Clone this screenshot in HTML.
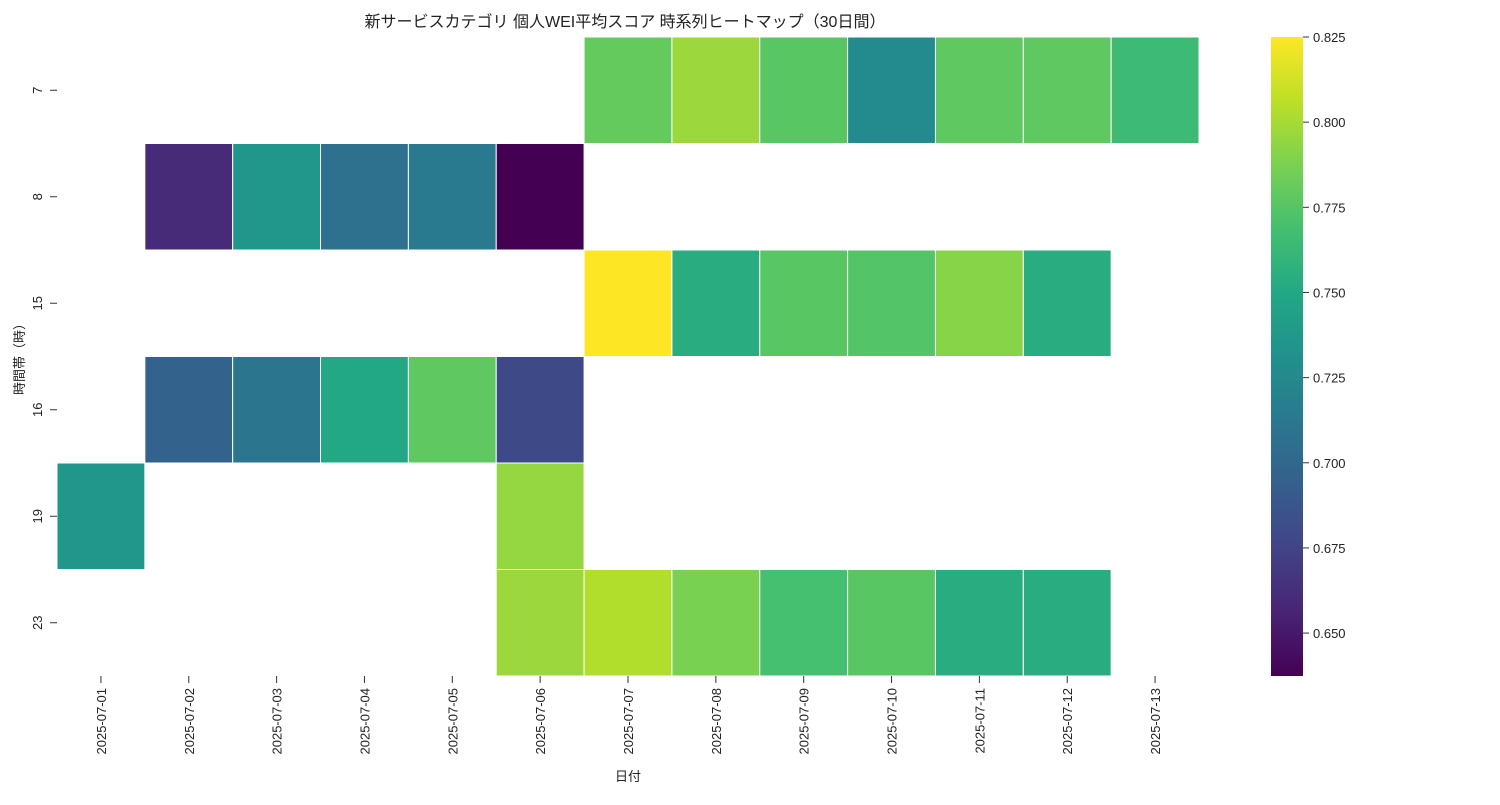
<!DOCTYPE html>
<html><head><meta charset="utf-8"><style>
body{margin:0;background:#fff;}
svg text{font-family:"Liberation Sans","Noto Sans CJK JP",sans-serif;fill:#222;}
</style></head><body>
<svg id="chart" width="1500" height="800"></svg>
<script>
const dates=["2025-07-01","2025-07-02","2025-07-03","2025-07-04","2025-07-05","2025-07-06","2025-07-07","2025-07-08","2025-07-09","2025-07-10","2025-07-11","2025-07-12","2025-07-13"];
const hours=["7","8","15","16","19","23"];
const row7=[null,null,null,null,null,null,0.780,0.797,0.776,0.726,0.778,0.778,0.765];
const row8=[null,0.660,0.735,0.707,0.714,0.6374,null,null,null,null,null,null,null];
const row15=[null,null,null,null,null,null,0.825,0.754,0.776,0.774,0.791,0.754,null];
const row16=[null,0.697,0.711,0.750,0.778,0.679,null,null,null,null,null,null,null];
const row19=[0.735,null,null,null,null,0.795,null,null,null,null,null,null,null];
const row23=[null,null,null,null,null,0.797,0.803,0.787,0.769,0.776,0.754,0.754,null];
const values=[row7,row8,row15,row16,row19,row23];
const cbTicks=[0.650,0.675,0.700,0.725,0.750,0.775,0.800,0.825];
const vmin=0.6374,vmax=0.825;

const stops=["#440154","#482475","#414487","#355f8d","#2a788e","#21918c","#22a884","#44bf70","#7ad151","#bddf26","#fde725"];
function hex(c){return [1,3,5].map(i=>parseInt(c.substr(i,2),16));}
function viridis(t){t=Math.max(0,Math.min(1,t));const p=t*(stops.length-1);const i=Math.min(Math.floor(p),stops.length-2);const f=p-i;const a=hex(stops[i]),b=hex(stops[i+1]);return "rgb("+a.map((v,k)=>Math.round(v+(b[k]-v)*f)).join(",")+")";}
const svg=document.getElementById('chart');const NS="http://www.w3.org/2000/svg";
function el(tag,attrs,txt){const e=document.createElementNS(NS,tag);for(const k in attrs)e.setAttribute(k,attrs[k]);if(txt!=null)e.textContent=txt;svg.appendChild(e);return e;}
const X0=57,X1=1199,Y0=37,Y1=676;
const cw=(X1-X0)/dates.length,ch=(Y1-Y0)/hours.length;
const xs=i=>X0+i*cw, ys=j=>Y0+j*ch;
const t=el('text',{x:625,y:27,'font-size':16,'text-anchor':'middle'},"新サービスカテゴリ 個人WEI平均スコア 時系列ヒートマップ（30日間）");

values.forEach((row,j)=>row.forEach((v,i)=>{if(v==null)return;
 const r=el('rect',{x:xs(i),y:ys(j),width:cw,height:ch,fill:viridis((v-vmin)/(vmax-vmin)),stroke:'#fff','stroke-width':1});
 
 }));
hours.forEach((h,j)=>{const y=ys(j)+ch/2;
 el('line',{x1:50,x2:57,y1:y,y2:y,stroke:'#333'});
 const tx=el('text',{x:0,y:0,'font-size':13,'text-anchor':'middle',transform:`translate(42,${y}) rotate(-90)`},h);
 });
dates.forEach((d,i)=>{const x=xs(i)+cw/2;
 el('line',{x1:x,x2:x,y1:676,y2:683,stroke:'#333'});
 const tx=el('text',{x:0,y:0,'font-size':13,'text-anchor':'end',transform:`translate(${x+5},688) rotate(-90)`},d);
 });
const xt=el('text',{x:628,y:781,'font-size':13,'text-anchor':'middle'},"日付");

const yt=el('text',{x:0,y:0,'font-size':13,'text-anchor':'middle',transform:'translate(24,356) rotate(-90)'},"時間帯（時）");

// colorbar
const CX=1271,CW=32;
const defs=el('defs',{});const g=document.createElementNS(NS,'linearGradient');
g.setAttribute('id','vg');g.setAttribute('x1','0');g.setAttribute('y1','1');g.setAttribute('x2','0');g.setAttribute('y2','0');
stops.forEach((c,k)=>{const s=document.createElementNS(NS,'stop');s.setAttribute('offset',k/(stops.length-1));s.setAttribute('stop-color',c);g.appendChild(s);});
defs.appendChild(g);
const cb=el('rect',{x:CX,y:Y0,width:CW,height:Y1-Y0,fill:'url(#vg)'});

const cy=v=>Y1-(v-vmin)/(vmax-vmin)*(Y1-Y0);
cbTicks.forEach(v=>{const y=cy(v);
 el('line',{x1:CX+CW,x2:CX+CW+6,y1:y,y2:y,stroke:'#333'});
 const tx=el('text',{x:CX+CW+10,y:y+5,'font-size':13},v.toFixed(3));
 });
</script>
</body></html>
